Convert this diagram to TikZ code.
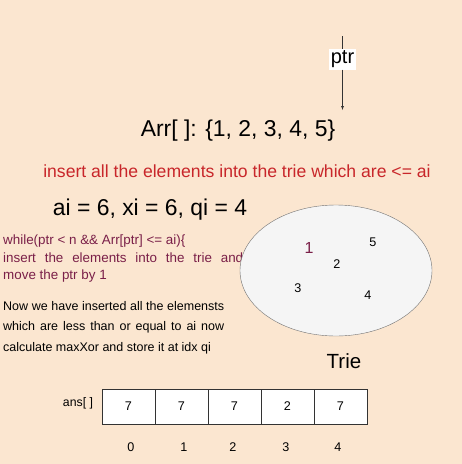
\documentclass[tikz,border=0pt]{standalone}
\usepackage{fontspec}
\setmainfont{Liberation Sans}
\usetikzlibrary{positioning,shapes.geometric}
\definecolor{peach}{HTML}{FBE6D0}
\definecolor{insertred}{HTML}{C8262A}
\definecolor{loopplum}{HTML}{7A1F48}
\definecolor{triefill}{HTML}{F5F5F5}
\def\fs#1#2{\fontsize{#1}{#2}\selectfont}

\begin{document}
\begin{tikzpicture}[x=1pt,y=-1pt,
				big text/.style={font=\fs{22.9}{26}, inner sep=0pt},
				red text/.style={font=\fs{17.6}{20}, text=insertred, inner sep=0pt},
				loop text/.style={font=\fs{13.4}{17.5}, text=loopplum, text width=240pt, align=justify, inner sep=0pt},
				note text/.style={font=\fs{12.5}{20.5}, text width=221pt, align=justify, inner sep=0pt},
				trie key/.style={font=\fs{12.6}{14}, inner sep=0pt},
				anscell/.style={draw=black!80, fill=white, minimum width=53pt, minimum height=35pt, outer sep=0pt, inner sep=0pt, font=\fs{12.6}{14}},
				idx/.style={font=\fs{12.6}{14}, inner sep=0pt}]
			\fill[peach] (0,0) rectangle (462,464);
			\useasboundingbox (0,0) rectangle (462,464);
			\coordinate (ptrtop) at (342.5,36);
			\coordinate (ptrtip) at (342.5,110);
			\node[fill=white, inner sep=1.5pt, font=\fs{20}{22}] (ptr) at (342.5,59.5) {ptr};
			\draw[black!80] (ptrtop) -- (ptr);
			\draw[black!80, -latex] (ptr) -- (ptrtip);
			\node[big text] (arr) at (238,131) {Arr[ ]: \{1, 2, 3, 4, 5\}};
			\node[red text] (rule) at (237,171) {insert all the elements into the trie which are <= ai};
			\node[big text] (query) at (150,210) {ai = 6, xi = 6, qi = 4};
			\node[loop text, anchor=north west] (loop) at (3,235)
				{while(ptr < n \&\& Arr[ptr] <= ai)\{\\insert the elements into the trie and\linebreak move the ptr by 1};
			\node[note text, anchor=north west] (note) at (3,301)
				{Now we have inserted all the elemensts\linebreak which are less than or equal to ai now\linebreak calculate maxXor and store it at idx qi};
			\node[draw=black!55, fill=triefill, ellipse, minimum width=192pt, minimum height=131pt] (trie) at (336,270.5) {};
			\node[trie key, text=loopplum, font=\fs{16}{18}] (k1) at (309,248) {1};
			\node[trie key] (k5) at (373,242) {5};
			\node[trie key] (k2) at (337,264) {2};
			\node[trie key] (k3) at (298,288) {3};
			\node[trie key] (k4) at (368,295) {4};
			\node[font=\fs{20.5}{22}, inner sep=0pt] (trielabel) at (344,361) {Trie};
			\node[anscell, anchor=west] (c0) at (102,406.5) {7};
			\foreach \v [count=\i from 1, evaluate=\i as \j using int(\i-1)] in {7,7,2,7}
				\node[anscell, anchor=west] (c\i) at (c\j.east) {\v};
			\node[font=\fs{12.3}{14}, inner sep=0pt] (anslabel) at (78,403) {ans[ ]};
			\foreach \x [count=\i from 0] in {131,184,233,286,338}
				\node[idx] (i\i) at (\x,447) {\i};
		\end{tikzpicture}
\end{document}
